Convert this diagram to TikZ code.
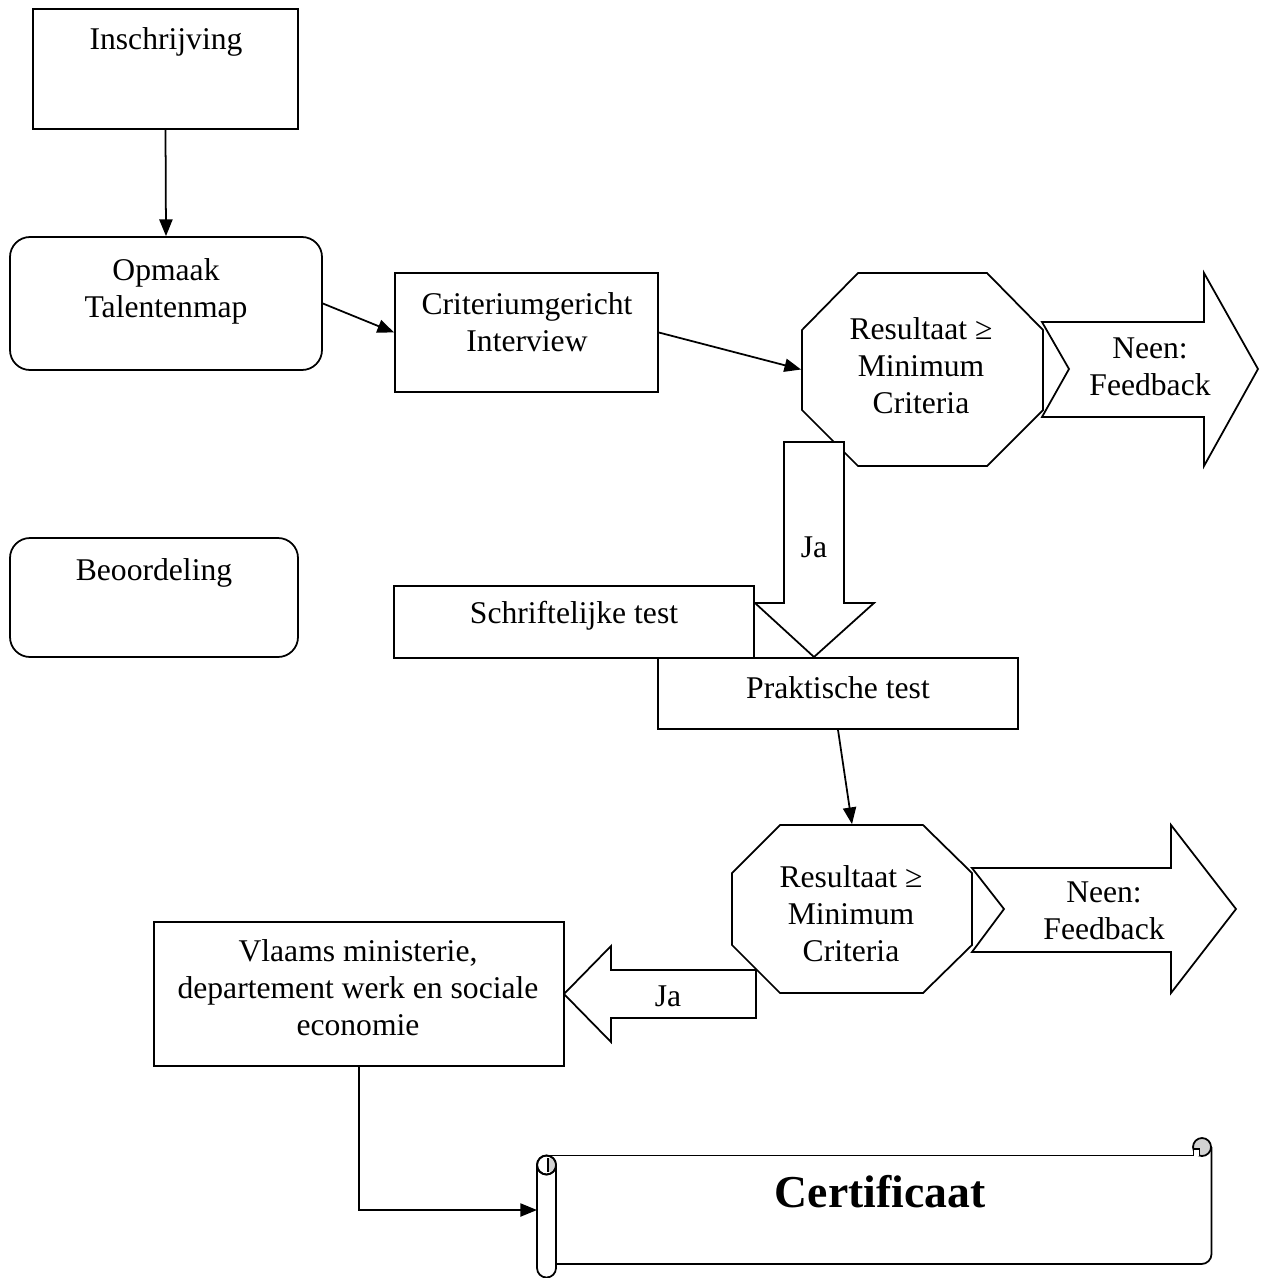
\documentclass[tikz,border=0pt]{standalone}
\usepackage{fontspec}
\setmainfont{Liberation Serif}
\usetikzlibrary{arrows.meta,fit}
\begin{document}
\begin{tikzpicture}[x=0.02cm,y=-0.02cm, line width=1pt,
  txt/.style={align=center, font=\fontsize{18}{21}\selectfont, inner sep=0pt},
  frame/.style={draw, fill=white, inner sep=0pt},
  rframe/.style={frame, rounded corners=0.4cm},
  ghost/.style={inner sep=0pt},
  con/.style={-{Triangle[length=9.5pt,width=7.5pt]}},
  blk/.style={draw, fill=white, line join=miter}]
\useasboundingbox (0,0) rectangle (1268,1278);

% boxes
\node[frame, fit={(33,9) (298,129)}] (insch) {};
\node[txt] (tinsch) at (166,42) {Inschrijving};

\node[rframe, fit={(10,237) (322,370)}] (opm) {};
\node[txt] (topm) at (166,291) {Opmaak\\Talentenmap};

\node[frame, fit={(395,273) (658,392)}] (crit) {};
\node[txt] (tcrit) at (527,322) {Criteriumgericht\\Interview};

\node[rframe, fit={(10,538) (298,657)}] (beo) {};
\node[txt] (tbeo) at (154,573) {Beoordeling};

% octagon 1
\node[ghost, fit={(802,273) (1043,466)}] (oct1) {};
\draw[blk] (858,273) -- (987,273) -- (1043,330) -- (1043,410) -- (987,466) -- (858,466) -- (802,410) -- (802,330) -- cycle;
\node[txt] (toct1) at (921,366) {Resultaat ≥\\Minimum\\Criteria};

% right block arrow 1
\draw[blk] (1042,322) -- (1204,322) -- (1204,273) -- (1258,369) -- (1204,466) -- (1204,417) -- (1042,417) -- (1069,369) -- cycle;
\node[txt] (tneen1) at (1150,367) {Neen:\\Feedback};

% down block arrow Ja
\draw[blk] (784,442) -- (844,442) -- (844,603) -- (874,603) -- (814,657) -- (755,603) -- (784,603) -- cycle;
\node[txt] (tja1) at (814,547) {Ja};

% test boxes
\node[frame, fit={(394,586) (754,658)}] (schr) {};
\node[txt] (tschr) at (574,616) {Schriftelijke test};
\node[frame, fit={(658,658) (1018,729)}] (prak) {};
\node[txt] (tprak) at (838,688) {Praktische test};

% octagon 2
\node[ghost, fit={(732,825) (972,993)}] (oct2) {};
\draw[blk] (780,825) -- (923,825) -- (972,873) -- (972,945) -- (923,993) -- (780,993) -- (732,945) -- (732,873) -- cycle;
\node[txt] (toct2) at (851,914) {Resultaat ≥\\Minimum\\Criteria};

% right block arrow 2
\draw[blk] (972,868) -- (1171,868) -- (1171,825) -- (1236,909) -- (1171,993) -- (1171,952) -- (972,952) -- (1004,909) -- cycle;
\node[txt] (tneen2) at (1104,911) {Neen:\\Feedback};

% left block arrow Ja
\draw[blk] (756,970) -- (611,970) -- (611,946) -- (564,994) -- (611,1042) -- (611,1018) -- (756,1018) -- cycle;
\node[txt] (tja2) at (668,996) {Ja};

% Vlaams box
\node[frame, fit={(154,922) (564,1066)}] (vlaams) {};
\node[txt] (tvlaams) at (358,988) {Vlaams ministerie,\\departement werk en sociale\\economie};

% scroll
\draw[rounded corners=0.2cm] (556,1264) -- (1211.5,1264) -- (1211.5,1147);
\draw (546.5,1155.5) -- (1193,1155.5);
\filldraw[fill=gray!35] (1202,1147) circle (0.18cm);
\filldraw[fill=white, line width=0.8pt] (1193.5,1156) -- (1193.5,1149) -- (1199.5,1149) -- (1199.5,1156);
\filldraw[fill=white] (537,1165) -- (537,1268) arc[start angle=180,end angle=360,radius=0.19cm] -- (556,1165);
\filldraw[fill=white] (546.5,1165) circle (0.19cm);
\fill[gray!35] (548,1158) arc[start angle=90,end angle=-90,radius=0.14cm] -- cycle;
\draw (546.5,1165) circle (0.19cm);
\draw[line width=0.8pt] (548,1158) -- (548,1172);
\node[font=\fontsize{26}{30}\selectfont\bfseries, inner sep=0pt] (cert) at (880,1192) {Certificaat};
\coordinate (scrollin) at (537,1210);

% connectors
\draw[con] (insch.south) -- (opm.north);
\draw[con] (opm.east) -- (crit.west);
\draw[con] (crit.east) -- (oct1.west);
\draw[con] (prak.south) -- (oct2.north);
\draw[con] (vlaams.south) |- (scrollin);
\end{tikzpicture}
\end{document}
